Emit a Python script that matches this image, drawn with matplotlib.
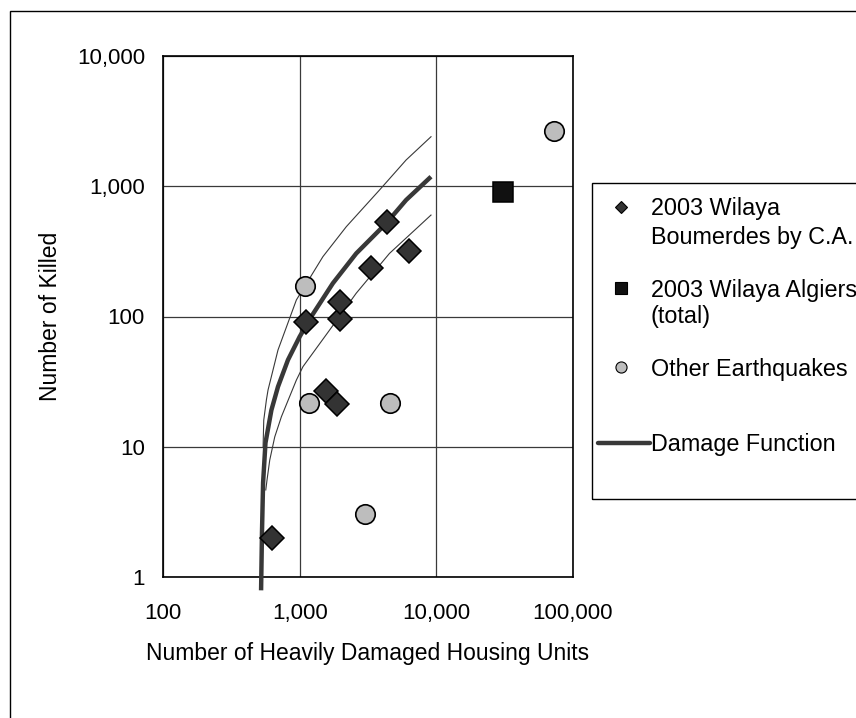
import matplotlib
matplotlib.use('Agg')
import matplotlib.pyplot as plt
from matplotlib.lines import Line2D
from matplotlib.patches import Rectangle

plt.rcParams['font.family'] = ['Liberation Sans', 'DejaVu Sans']

# ---------------- data ----------------
boum_x = [628, 1119, 1982, 1982, 3335, 4365, 6280, 1567, 1871]
boum_y = [1.98, 90, 95.2, 130, 234, 535, 320, 26.9, 21.3]

alg_x = [31000]
alg_y = [903]

other_x = [72600, 1101, 1170, 4615, 3020]
other_y = [2670, 172, 21.8, 21.8, 3.05]

dmg_x = [522, 530, 540, 562, 621, 694, 821, 1000, 1217, 1750, 2594, 4295, 6010, 9141]
dmg_y = [0.79, 2.2, 5.3, 10.7, 19.1, 28.9, 46.4, 70, 100, 180, 305, 519, 784, 1184]

upper_x = [540, 546, 571, 587, 694, 946, 1479, 2193, 3837, 6010, 9141]
upper_y = [10, 16, 22.9, 27.3, 55.3, 134, 288, 489, 935, 1591, 2400]

lower_x = [565, 577, 604, 657, 735, 946, 1057, 1656, 2594, 4540, 9141]
lower_y = [4.66, 5.56, 7.9, 11.9, 17.0, 32.5, 41.2, 78.7, 151, 305, 601]

x_ticks = [100, 1000, 10000, 100000]
x_ticklabels = ['100', '1,000', '10,000', '100,000']
y_ticks = [1, 10, 100, 1000, 10000]
y_ticklabels = ['1', '10', '100', '1,000', '10,000']

legend_labels = ['2003 Wilaya\nBoumerdes by C.A.', '2003 Wilaya Algiers\n(total)',
                 'Other Earthquakes', 'Damage Function']
x_title = 'Number of Heavily Damaged Housing Units'
y_title = 'Number of Killed'

# ---------------- figure ----------------
W, H = 856, 718
fig = plt.figure(figsize=(W / 100, H / 100), dpi=100)
fig.patch.set_facecolor('white')

def fx(px):
    return px / W

def fy(py):
    return 1 - py / H

# outer frame (extends beyond right/bottom of crop)
fig.add_artist(Rectangle((fx(10), fy(900)), 2.0, fy(11) - fy(900),
                         transform=fig.transFigure, fill=False,
                         edgecolor='black', linewidth=1.0))

ax = fig.add_axes([fx(163), fy(577), fx(573) - fx(163), fy(56) - fy(577)])
ax.set_xscale('log')
ax.set_yscale('log')
ax.set_xlim(100, 100000)
ax.set_ylim(1, 10000)

ax.set_xticks(x_ticks)
ax.set_xticklabels(x_ticklabels)
ax.set_yticks(y_ticks)
ax.set_yticklabels(y_ticklabels)
ax.minorticks_off()
ax.tick_params(axis='x', length=0, pad=18.5, labelsize=16)
ax.tick_params(axis='y', length=0, pad=13, labelsize=16)

ax.grid(True, which='major', color='#3a3a3a', linewidth=0.9)
ax.set_axisbelow(True)
for s in ax.spines.values():
    s.set_color('black')
    s.set_linewidth(1.2)

line_col = '#383838'
ax.plot(upper_x, upper_y, color=line_col, linewidth=0.8, zorder=3)
ax.plot(lower_x, lower_y, color=line_col, linewidth=0.8, zorder=3)
ax.plot(dmg_x, dmg_y, color=line_col, linewidth=3.2, zorder=3,
        clip_on=False, solid_capstyle='butt')

ax.plot(boum_x, boum_y, linestyle='none', marker='D', markersize=12.4,
        markerfacecolor='#333333', markeredgecolor='black',
        markeredgewidth=1.1, zorder=5)
ax.plot(alg_x, alg_y, linestyle='none', marker='s', markersize=14.5,
        markerfacecolor='#111111', markeredgecolor='black',
        markeredgewidth=1.1, zorder=5)
ax.plot(other_x, other_y, linestyle='none', marker='o', markersize=14,
        markerfacecolor='#bdbdbd', markeredgecolor='black',
        markeredgewidth=1.2, zorder=5)

ax.set_xlabel(x_title, fontsize=16.5)
ax.set_ylabel(y_title, fontsize=16.5)
ax.xaxis.set_label_coords(0.5, -(642 - 577) / 521)
ax.yaxis.set_label_coords((62 - 163) / 410, 0.5)

# ---------------- legend (drawn by hand to match the crop) ----------------
fig.add_artist(Rectangle((fx(592), fy(499)), 1.0, fy(183) - fy(499),
                         transform=fig.transFigure, fill=False,
                         edgecolor='black', linewidth=1.0))

mk_x = fx(621)
fig.add_artist(Line2D([mk_x], [fy(206.5)], transform=fig.transFigure,
                      marker='D', markersize=6.6, markerfacecolor='#333333',
                      markeredgecolor='black', markeredgewidth=0.8, linestyle='none'))
fig.add_artist(Line2D([mk_x], [fy(288.5)], transform=fig.transFigure,
                      marker='s', markersize=8, markerfacecolor='#111111',
                      markeredgecolor='black', markeredgewidth=0.8, linestyle='none'))
fig.add_artist(Line2D([mk_x], [fy(367)], transform=fig.transFigure,
                      marker='o', markersize=8, markerfacecolor='#bdbdbd',
                      markeredgecolor='black', markeredgewidth=0.8, linestyle='none'))
fig.add_artist(Line2D([fx(598), fx(650)], [fy(443), fy(443)], transform=fig.transFigure,
                      color=line_col, linewidth=3.2, solid_capstyle='round'))

line_pos = [[205.5, 235.5], [288.5, 313.5], [367], [442.5]]
tx = fx(651)
for lab, ys in zip(legend_labels, line_pos):
    for part, yy in zip(lab.split('\n'), ys):
        fig.text(tx, fy(yy), part, fontsize=16.8, ha='left', va='center_baseline')

fig.savefig('out.png', dpi=100)
